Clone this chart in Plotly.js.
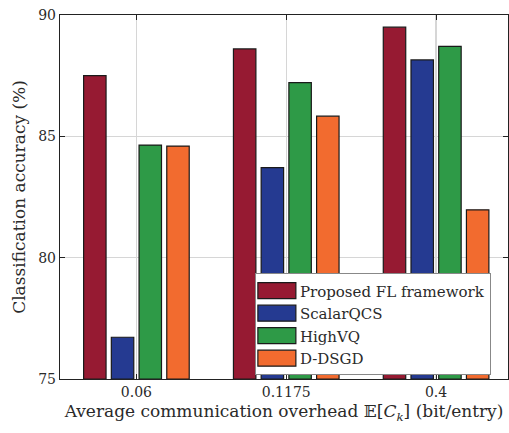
<!DOCTYPE html>
<html>
<head>
<meta charset="utf-8">
<script src="https://cdn.plot.ly/plotly-3.0.1.min.js"></script>
<style>html,body{margin:0;padding:0;background:#fff;}#chart{width:509px;height:433px;}</style>
</head>
<body>
<div id="chart"></div>
<script>
const categories = ['0.06', '0.1175', '0.4'];
const seriesNames = ['Proposed FL framework', 'ScalarQCS', 'HighVQ', 'D-DSGD'];
const proposed = [87.5, 88.6, 89.5];
const scalarQCS = [76.72, 83.71, 88.15];
const highVQ = [84.64, 87.21, 88.71];
const dDSGD = [84.6, 85.83, 81.97];
const yTicks = [75, 80, 85, 90];
const colors = ['#961a32', '#253a91', '#2e9a47', '#f26b2f'];

const allValues = [proposed, scalarQCS, highVQ, dDSGD];
const data = allValues.map((vals, i) => ({
  type: 'bar',
  name: seriesNames[i],
  x: categories,
  y: vals.map(v => v - 75),
  base: 75,
  marker: {color: colors[i], line: {color: '#1a1a1a', width: 1.2}}
}));

const font = 'DejaVu Serif, serif';
const layout = {
  width: 509, height: 433,
  margin: {l: 60, r: 1, t: 15, b: 54},
  paper_bgcolor: '#fff', plot_bgcolor: '#fff',
  font: {family: font, color: '#2a2a2a', size: 14},
  barmode: 'group', bargap: 0.26, bargroupgap: 0.19,
  xaxis: {
    type: 'category', range: [-0.51, 2.48],
    showgrid: true, gridcolor: '#d6d6d6', gridwidth: 1.5,
    showline: true, linecolor: '#222', linewidth: 1.2, mirror: 'ticks',
    ticks: 'inside', ticklen: 5, tickcolor: '#222',
    tickfont: {size: 14},
    title: {text: 'Average communication overhead 𝔼[<i>C</i><sub><i>k</i></sub>] (bit/entry)', font: {size: 17}, standoff: 6}
  },
  yaxis: {
    range: [75, 90], tickvals: yTicks, ticktext: yTicks.map(String),
    showgrid: true, gridcolor: '#d6d6d6', gridwidth: 1.5, zeroline: false,
    showline: true, linecolor: '#222', linewidth: 1.2, mirror: 'ticks',
    ticks: 'inside', ticklen: 5, tickcolor: '#222',
    tickfont: {size: 14},
    title: {text: 'Classification accuracy (%)', font: {size: 17}, standoff: 8}
  },
  showlegend: true,
  legend: {
    x: 0.435, y: 0.29, xanchor: 'left', yanchor: 'top',
    bgcolor: '#fff', bordercolor: '#888', borderwidth: 1,
    font: {size: 15, family: font, color: '#2a2a2a'},
    itemwidth: 34, tracegroupgap: 0
  }
};

Plotly.newPlot('chart', data, layout, {displayModeBar: false, staticPlot: true}).then(() => {
  document.querySelectorAll('.legendpoints path').forEach(p => {
    p.setAttribute('d', 'M18,8H-20V-8H18Z');
  });
});
</script>
</body>
</html>
